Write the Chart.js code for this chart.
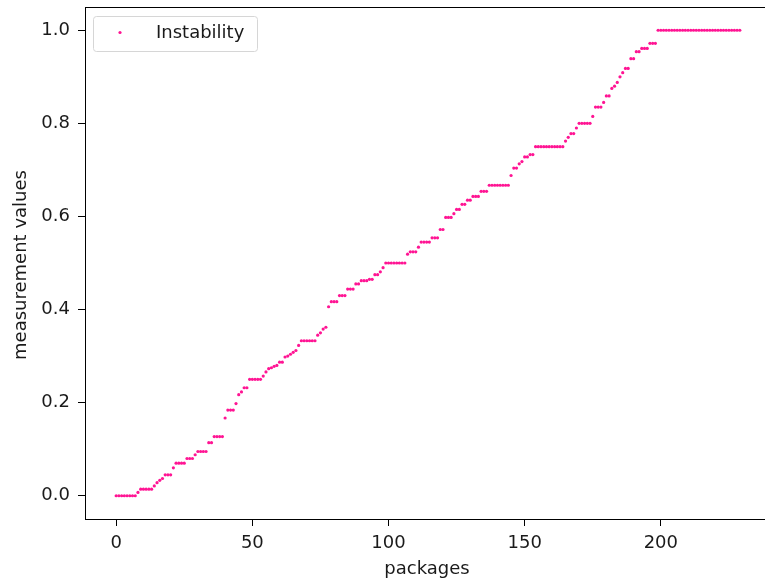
<!DOCTYPE html>
<html>
<head>
<meta charset="utf-8">
<script src="https://cdn.jsdelivr.net/npm/chart.js@4"></script>
<style>
  html, body { margin: 0; padding: 0; background: #fff; overflow: hidden; }
  #wrap { width: 775px; height: 583px; position: relative; }
</style>
</head>
<body>
<div id="wrap"><canvas id="c" width="775" height="583"></canvas></div>
<script>
// ---- data ----
const seriesName = "Instability";
const xTitle = "packages";
const yTitle = "measurement values";
const xTickValues = [0, 50, 100, 150, 200];
const yTickValues = [0.0, 0.2, 0.4, 0.6, 0.8, 1.0];
const yTickLabels = ["0.0", "0.2", "0.4", "0.6", "0.8", "1.0"];
const instability = [
  0,0,0,0,0,0,0,0,0.007,0.014,
  0.014,0.014,0.014,0.014,0.021,0.028,0.033,0.037,0.045,0.045,
  0.045,0.06,0.07,0.07,0.07,0.07,0.08,0.08,0.08,0.088,
  0.095,0.095,0.095,0.095,0.114,0.114,0.127,0.127,0.127,0.127,
  0.167,0.184,0.184,0.184,0.198,0.217,0.223,0.232,0.232,0.25,
  0.25,0.25,0.25,0.25,0.257,0.266,0.273,0.275,0.278,0.28,
  0.287,0.287,0.298,0.3,0.304,0.308,0.312,0.323,0.333,0.333,
  0.333,0.333,0.333,0.333,0.345,0.35,0.358,0.362,0.406,0.417,
  0.417,0.417,0.43,0.43,0.43,0.444,0.444,0.444,0.455,0.455,
  0.462,0.462,0.462,0.465,0.465,0.475,0.475,0.481,0.49,0.5,
  0.5,0.5,0.5,0.5,0.5,0.5,0.5,0.519,0.524,0.524,
  0.524,0.534,0.545,0.545,0.545,0.545,0.554,0.554,0.554,0.572,
  0.572,0.598,0.598,0.598,0.606,0.615,0.615,0.626,0.626,0.635,
  0.635,0.643,0.643,0.643,0.654,0.654,0.654,0.667,0.667,0.667,
  0.667,0.667,0.667,0.667,0.667,0.688,0.704,0.704,0.713,0.718,
  0.728,0.728,0.733,0.733,0.75,0.75,0.75,0.75,0.75,0.75,
  0.75,0.75,0.75,0.75,0.75,0.762,0.77,0.778,0.778,0.79,
  0.8,0.8,0.8,0.8,0.8,0.815,0.835,0.835,0.835,0.845,
  0.859,0.859,0.875,0.88,0.888,0.9,0.909,0.918,0.918,0.939,
  0.939,0.954,0.954,0.961,0.961,0.961,0.972,0.972,0.972,1,
  1,1,1,1,1,1,1,1,1,1,
  1,1,1,1,1,1,1,1,1,1,
  1,1,1,1,1,1,1,1,1,1
];

// ---- chart ----
const COLOR = '#ff1493';
const FONT = '"DejaVu Sans", "Liberation Sans", sans-serif';
const FSIZE = 18;
const points = instability.map((v, i) => ({ x: i, y: v }));
const n = instability.length;
const xMargin = (n - 1) * 0.05;

const decor = {
  id: 'decor',
  afterDraw(chart) {
    const ctx = chart.ctx;
    const a = chart.chartArea;
    ctx.save();
    // spines
    ctx.strokeStyle = '#000';
    ctx.lineWidth = 1;
    ctx.strokeRect(Math.round(a.left) + 0.5, Math.round(a.top) + 0.5,
                   Math.round(a.right - a.left), Math.round(a.bottom - a.top));
    // axis titles
    ctx.fillStyle = '#1a1a1a';
    ctx.font = FSIZE + 'px ' + FONT;
    ctx.textAlign = 'center';
    ctx.textBaseline = 'middle';
    ctx.fillText(xTitle, (a.left + a.right) / 2 - 1, 569);
    ctx.save();
    ctx.translate(21, (a.top + a.bottom) / 2 + 2);
    ctx.rotate(-Math.PI / 2);
    ctx.fillText(yTitle, 0, 0);
    ctx.restore();
    // legend
    const lx = 93.5, ly = 16.5, lw = 164, lh = 35, r = 3;
    ctx.beginPath();
    ctx.moveTo(lx + r, ly);
    ctx.lineTo(lx + lw - r, ly);
    ctx.arcTo(lx + lw, ly, lx + lw, ly + r, r);
    ctx.lineTo(lx + lw, ly + lh - r);
    ctx.arcTo(lx + lw, ly + lh, lx + lw - r, ly + lh, r);
    ctx.lineTo(lx + r, ly + lh);
    ctx.arcTo(lx, ly + lh, lx, ly + lh - r, r);
    ctx.lineTo(lx, ly + r);
    ctx.arcTo(lx, ly, lx + r, ly, r);
    ctx.closePath();
    ctx.fillStyle = 'rgba(255,255,255,0.8)';
    ctx.fill();
    ctx.strokeStyle = '#d6d6d6';
    ctx.stroke();
    ctx.fillStyle = COLOR;
    ctx.beginPath();
    ctx.arc(120, 32.5, 1.6, 0, Math.PI * 2);
    ctx.fill();
    ctx.fillStyle = '#1a1a1a';
    ctx.textAlign = 'left';
    ctx.fillText(seriesName, 156, 33);
    ctx.restore();
  }
};

new Chart(document.getElementById('c'), {
  type: 'scatter',
  data: {
    datasets: [{
      label: seriesName,
      data: points,
      backgroundColor: COLOR,
      borderColor: COLOR,
      pointRadius: 1.6,
      pointBorderWidth: 0,
      pointHoverRadius: 1.6
    }]
  },
  options: {
    responsive: false,
    animation: false,
    devicePixelRatio: 1,
    layout: { padding: { top: 7, right: 4, left: 0, bottom: 0 } },
    plugins: { legend: { display: false }, tooltip: { enabled: false } },
    events: [],
    scales: {
      x: {
        type: 'linear',
        min: -xMargin,
        max: (n - 1) + xMargin,
        afterBuildTicks: (s) => { s.ticks = xTickValues.map(v => ({ value: v })); },
        afterFit: (s) => { s.height = 64; s.paddingLeft = 0; s.paddingRight = 0; },
        grid: { display: true, drawOnChartArea: false, drawTicks: true, tickLength: 7, tickColor: '#000', tickWidth: 1 },
        border: { display: false },
        ticks: {
          color: '#1a1a1a',
          font: { family: FONT, size: FSIZE },
          padding: 7,
          maxRotation: 0,
          callback: (v) => String(v)
        }
      },
      y: {
        type: 'linear',
        min: -0.05,
        max: 1.05,
        afterBuildTicks: (s) => { s.ticks = yTickValues.map(v => ({ value: v })); },
        afterFit: (s) => { s.width = 85; s.paddingTop = 0; s.paddingBottom = 0; },
        grid: { display: true, drawOnChartArea: false, drawTicks: true, tickLength: 7, tickColor: '#000', tickWidth: 1 },
        border: { display: false },
        ticks: {
          color: '#1a1a1a',
          font: { family: FONT, size: FSIZE },
          padding: 8,
          callback: (v) => {
            const i = yTickValues.findIndex(t => Math.abs(t - v) < 1e-9);
            return i >= 0 ? yTickLabels[i] : '';
          }
        }
      }
    }
  },
  plugins: [decor]
});
</script>
</body>
</html>
